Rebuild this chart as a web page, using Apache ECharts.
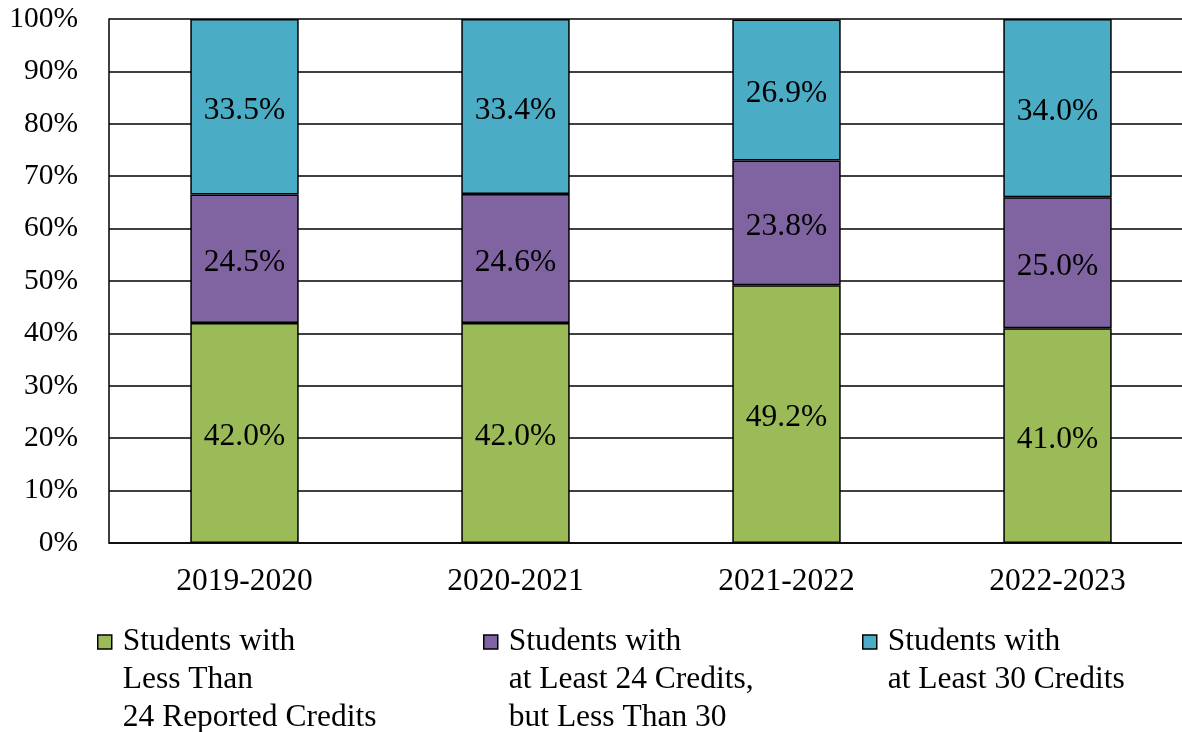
<!DOCTYPE html>
<html>
<head>
<meta charset="utf-8">
<script src="https://cdn.jsdelivr.net/npm/echarts@6/dist/echarts.min.js"></script>
<style>
  html, body { margin: 0; padding: 0; background: #fff; }
  #chart { width: 1182px; height: 732px; }
</style>
</head>
<body>
<div id="chart"></div>
<script>
// data
const years = ['2019-2020', '2020-2021', '2021-2022', '2022-2023'];
const lessThan24 = [42.0, 42.0, 49.2, 41.0];
const from24to30 = [24.5, 24.6, 23.8, 25.0];
const atLeast30 = [33.5, 33.4, 26.9, 34.0];
const seriesNames = [
  'Students with\nLess Than\n24 Reported Credits',
  'Students with\nat Least 24 Credits,\nbut Less Than 30',
  'Students with\nat Least 30 Credits'
];
const yTicks = [0, 10, 20, 30, 40, 50, 60, 70, 80, 90, 100];

const FONT = '"Liberation Serif", "Times New Roman", serif';
const colors = ['#9BBB59', '#8064A2', '#4BACC6'];

const chart = echarts.init(document.getElementById('chart'));

const barSeries = (name, data, color) => ({
  name: name,
  type: 'bar',
  stack: 'total',
  data: data,
  barWidth: '40%',
  itemStyle: { color: color, borderColor: '#000', borderWidth: 1.5 },
  label: {
    show: true,
    position: 'inside',
    offset: [0, 4],
    color: '#000',
    fontFamily: FONT,
    fontSize: 31.5,
    formatter: p => p.value.toFixed(1) + '%'
  }
});

// legend text is centred on the icon, so pad with blank lines above
// to keep the icon next to the first line
const legendAt = (left, name) => {
  const lines = name.split('\n').length;
  return {
    left: left,
    top: 661 - lines * 38,
    padding: 0,
    orient: 'vertical',
    icon: 'rect',
    itemWidth: 14,
    itemHeight: 14,
    data: [name],
    itemStyle: { borderColor: '#000', borderWidth: 1.5 },
    formatter: n => '\n'.repeat(lines - 1) + n,
    textStyle: {
      fontFamily: FONT,
      fontSize: 31.5,
      lineHeight: 38,
      color: '#000',
      padding: [0, 0, 0, 6]
    }
  };
};

chart.setOption({
  animation: false,
  backgroundColor: '#fff',
  grid: { left: 109, top: 19, width: 1084, height: 524, outerBoundsMode: 'none' },
  legend: [
    legendAt(97, seriesNames[0]),
    legendAt(483, seriesNames[1]),
    legendAt(862, seriesNames[2])
  ],
  xAxis: {
    type: 'category',
    data: years,
    axisLine: { lineStyle: { color: '#000', width: 1.5 } },
    axisTick: { show: false },
    axisLabel: { color: '#000', fontFamily: FONT, fontSize: 31.5, margin: 23 }
  },
  yAxis: {
    type: 'value',
    min: yTicks[0],
    max: yTicks[yTicks.length - 1],
    interval: 10,
    axisLine: { show: true, lineStyle: { color: '#000', width: 1.5 } },
    axisTick: { show: false },
    splitLine: { lineStyle: { color: '#000', width: 1.5 } },
    axisLabel: { color: '#000', fontFamily: FONT, fontSize: 29.5, margin: 31, formatter: '{value}%' }
  },
  series: [
    barSeries(seriesNames[0], lessThan24, colors[0]),
    barSeries(seriesNames[1], from24to30, colors[1]),
    barSeries(seriesNames[2], atLeast30, colors[2])
  ]
});
</script>
</body>
</html>
